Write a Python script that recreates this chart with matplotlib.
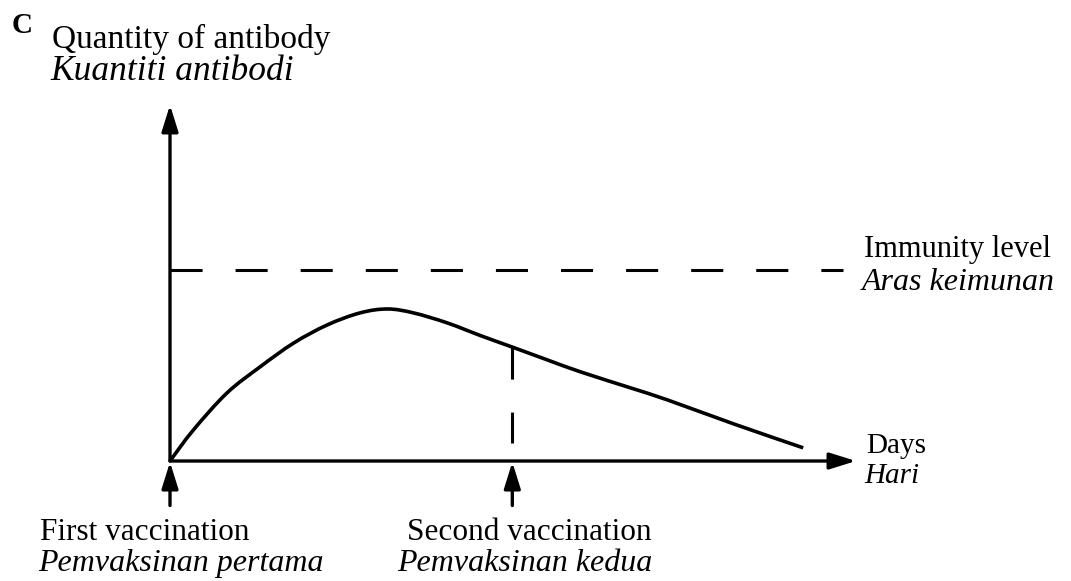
import matplotlib
matplotlib.use("Agg")
import matplotlib.pyplot as plt
from matplotlib.path import Path
from matplotlib.patches import PathPatch

# antibody curve (days and quantity in arbitrary units)
days = [0, 3.4, 8.3, 13.1, 18.0, 22.9, 27.7, 31.7, 35.5, 40.4, 45.3, 49.9,
        55.0, 59.9, 67.2, 72.6, 82.2, 92.3]
antibody = [0, 8.7, 19.1, 26.4, 33.1, 38.2, 41.6, 42.7, 41.6, 38.8, 35.2, 32.0,
            28.4, 25.0, 20.5, 17.1, 10.4, 3.7]
immunity_level = 53.7
immunity_end = 98.1
first_vacc = 0
second_vacc = 49.9
second_vacc_value = 32.0
second_dash_bottom = 5.1

W, H = 1071, 581
plt.rcParams["font.family"] = ["Liberation Serif", "DejaVu Serif"]
fig = plt.figure(figsize=(W / 100, H / 100), dpi=100)


def px(x, y):
    return x / W, 1 - y / H


# axes: origin at (170, 461) px, x arrow to 856 px, y arrow to 105 px
ax = fig.add_axes([170 / W, (H - 461) / H, 686 / W, 356 / H])
ax.set_xlim(0, 100)
ax.set_ylim(0, 100)
ax.axis("off")

lw = 2.4
arrow = dict(arrowstyle="-|>,head_length=0.8,head_width=0.25", color="black",
             lw=lw, shrinkA=0, shrinkB=0, mutation_scale=20)

ax.annotate("", xy=(100, 0), xytext=(0, 0), arrowprops=arrow, annotation_clip=False)
ax.annotate("", xy=(0, 100), xytext=(0, 0), arrowprops=arrow, annotation_clip=False)

# vaccination arrows below the x axis
for d in [first_vacc, second_vacc]:
    ax.annotate("", xy=(d, -0.3), xytext=(d, -12.5), arrowprops=arrow,
                annotation_clip=False)

# smooth curve through the read points (Catmull-Rom as cubic Bezier segments)
pts = list(zip(days, antibody))
verts = [pts[0]]
codes = [Path.MOVETO]
for i in range(len(pts) - 1):
    p0 = pts[max(i - 1, 0)]
    p1 = pts[i]
    p2 = pts[i + 1]
    p3 = pts[min(i + 2, len(pts) - 1)]
    c1 = (p1[0] + (p2[0] - p0[0]) / 6, p1[1] + (p2[1] - p0[1]) / 6)
    c2 = (p2[0] - (p3[0] - p1[0]) / 6, p2[1] - (p3[1] - p1[1]) / 6)
    verts += [c1, c2, p2]
    codes += [Path.CURVE4] * 3
ax.add_patch(PathPatch(Path(verts, codes), fill=False, lw=2.6, color="black",
                       capstyle="butt", clip_on=False))

ax.plot([0, immunity_end], [immunity_level, immunity_level], color="black", lw=2.2,
        dashes=(10.5, 10.8), clip_on=False)
ax.plot([second_vacc, second_vacc], [second_vacc_value, second_dash_bottom],
        color="black", lw=2.2, dashes=(10.5, 10.8), clip_on=False)

fs = 22
fsi = 23
fig.text(*px(12, 33), "C", fontsize=21, fontweight="bold", va="baseline")
fig.text(*px(52, 48), "Quantity of antibody", fontsize=24, va="baseline")
fig.text(*px(50, 80), "Kuantiti antibodi", fontsize=25.5, style="italic", va="baseline")

fig.text(*px(864, 257), "Immunity level", fontsize=fs, va="baseline")
fig.text(*px(862, 290), "Aras keimunan", fontsize=fsi, style="italic", va="baseline")
fig.text(*px(866, 453), "Days", fontsize=21, va="baseline")
fig.text(*px(864, 483), "Hari", fontsize=21, style="italic", va="baseline")

fig.text(*px(40, 540), "First vaccination", fontsize=22.5, va="baseline")
fig.text(*px(38, 571), "Pemvaksinan pertama", fontsize=fsi, style="italic", va="baseline")
fig.text(*px(407, 540), "Second vaccination", fontsize=22.5, va="baseline")
fig.text(*px(397, 571), "Pemvaksinan kedua", fontsize=fsi, style="italic", va="baseline")

fig.savefig("out.png", dpi=100, facecolor="white")
